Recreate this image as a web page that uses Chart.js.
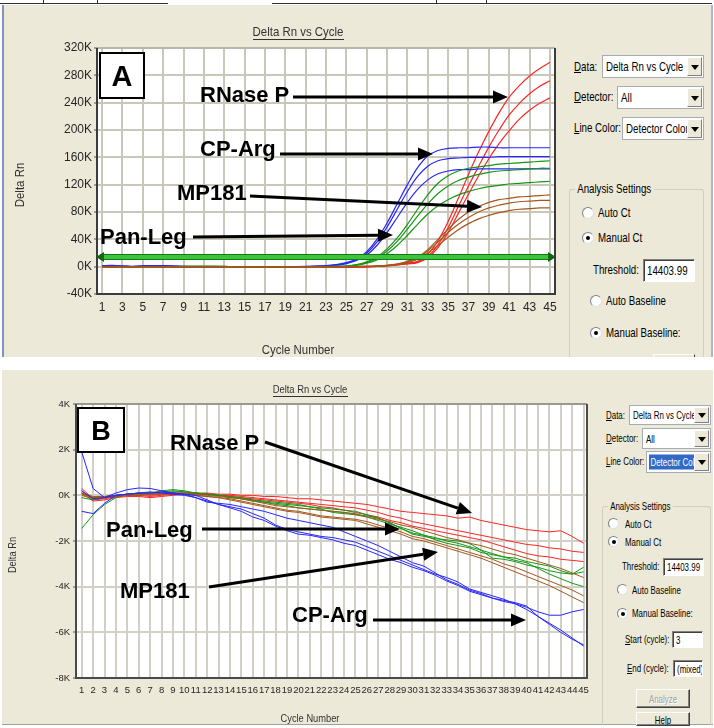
<!DOCTYPE html>
<html><head><meta charset="utf-8">
<script src="https://cdn.jsdelivr.net/npm/chart.js@4.4.1/dist/chart.umd.min.js"></script>
<style>
html,body{margin:0;padding:0;background:#fff;width:714px;height:728px;overflow:hidden;position:relative;font-family:"Liberation Sans",Arial,sans-serif;}
.panel{position:absolute;background:#ECE9D8;overflow:hidden}
canvas{position:absolute;left:0}
.t{position:absolute;white-space:nowrap;line-height:1;color:#000;transform:scaleX(.72);transform-origin:0 50%}
.dd{position:absolute;background:#fff;border:1px solid #A5ACB5;box-sizing:border-box;overflow:hidden;white-space:nowrap}
.dd span{position:absolute;left:3px;top:50%;transform:translateY(-50%) scaleX(.72);transform-origin:0 50%;line-height:1}
.dd span.sel{background:#316AC5;color:#fff;left:2px;padding:2px 8px 2px 2px}
.ddb{position:absolute;right:1px;top:1px;bottom:1px;width:15px;background:#ECE9D8;border:1px solid;border-color:#fff #808080 #808080 #fff;box-sizing:border-box}
.ddb:after{content:"";position:absolute;left:50%;top:50%;margin-left:-4px;margin-top:-2px;border-left:4px solid transparent;border-right:4px solid transparent;border-top:5px solid #000}
.rb{position:absolute;width:12px;height:12px;border-radius:50%;background:#fff;border:1px solid;border-color:#808080 #e0e0e0 #e0e0e0 #808080;box-sizing:border-box}
.rb.on:after{content:"";position:absolute;left:3px;top:3px;width:4px;height:4px;border-radius:50%;background:#000}
.inp{position:absolute;background:#fff;border:1px solid;border-color:#808080 #fff #fff #808080;box-shadow:inset 1px 1px 0 #404040;box-sizing:border-box;white-space:nowrap;overflow:hidden}
.inp span{position:absolute;left:3px;top:50%;transform:translateY(-50%) scaleX(.72);transform-origin:0 50%;line-height:1}
.grp{position:absolute;border:1px solid #D0D0BF;border-bottom:none;border-radius:3px 3px 0 0;box-sizing:border-box}
.grp .gl{position:absolute;left:5px;background:#ECE9D8;padding:0 3px;line-height:1;white-space:nowrap;transform:scaleX(.72);transform-origin:0 50%}
.btn{position:absolute;background:#ECE9D8;border:1px solid;border-color:#fff #404040 #404040 #fff;box-shadow:inset -1px -1px 0 #808080;box-sizing:border-box;text-align:center;overflow:hidden}
.btn span{position:absolute;left:50%;top:50%;transform:translate(-50%,-50%) scaleX(.72);line-height:1;white-space:nowrap}
</style></head><body>

<!-- top tab strip -->
<div style="position:absolute;left:0;top:3px;width:168px;height:1px;background:#333"></div>
<div style="position:absolute;left:272px;top:3px;width:440px;height:1px;background:#333"></div>
<div style="position:absolute;left:43px;top:0;width:1px;height:4px;background:#333"></div>
<div style="position:absolute;left:97px;top:0;width:1px;height:4px;background:#333"></div>
<div style="position:absolute;left:436px;top:0;width:1px;height:4px;background:#333"></div>
<div style="position:absolute;left:486px;top:0;width:1px;height:4px;background:#333"></div>

<div class="panel" id="pA" style="left:2px;top:5px;width:711px;height:352px;border-left:2px solid #7E93BE;border-right:2px solid #A9B7D6;box-sizing:border-box"></div>
<div class="panel" id="pB" style="left:2px;top:370px;width:711px;height:355px;border-bottom:1px solid #A0A0A0;box-sizing:border-box"></div>

<canvas id="cA" width="565" height="357" style="top:0"></canvas>
<canvas id="cB" width="600" height="360" style="top:368px"></canvas>

<!-- Panel A controls -->
<div style="font-size:13.5px">
<div class="t" style="left:574px;top:60px"><u>D</u>ata:</div>
<div class="dd" style="left:602px;top:55px;width:102px;height:23px"><span>Delta Rn vs Cycle</span><div class="ddb"></div></div>
<div class="t" style="left:574px;top:90px"><u>D</u>etector:</div>
<div class="dd" style="left:617px;top:86px;width:87px;height:23px"><span>All</span><div class="ddb"></div></div>
<div class="t" style="left:574px;top:121px"><u>L</u>ine Color:</div>
<div class="dd" style="left:622px;top:117px;width:82px;height:23px"><span>Detector Color</span><div class="ddb"></div></div>
<div class="grp" style="left:569px;top:189px;width:135px;height:168px"><div class="gl" style="top:-8px">Analysis Settings</div></div>
<div class="rb" style="left:582px;top:207px"></div><div class="t" style="left:598px;top:206px">Auto Ct</div>
<div class="rb on" style="left:582px;top:232px"></div><div class="t" style="left:598px;top:231px">Manual Ct</div>
<div class="t" style="left:593px;top:263px">Threshold:</div>
<div class="inp" style="left:643px;top:259px;width:52px;height:23px"><span>14403.99</span></div>
<div class="rb" style="left:590px;top:295px"></div><div class="t" style="left:606px;top:294px">Auto Baseline</div>
<div class="rb on" style="left:590px;top:327px"></div><div class="t" style="left:606px;top:326px">Manual Baseline:</div>
<div class="btn" style="left:653px;top:354px;width:42px;height:3px;border-bottom:none;box-shadow:none"></div>
</div>

<!-- Panel B controls -->
<div style="font-size:11px">
<div class="t" style="left:606px;top:410px"><u>D</u>ata:</div>
<div class="dd" style="left:629px;top:405px;width:82px;height:20px"><span>Delta Rn vs Cycle</span><div class="ddb"></div></div>
<div class="t" style="left:606px;top:433px"><u>D</u>etector:</div>
<div class="dd" style="left:642px;top:428px;width:69px;height:21px"><span>All</span><div class="ddb"></div></div>
<div class="t" style="left:606px;top:456px"><u>L</u>ine Color:</div>
<div class="dd" style="left:646px;top:451px;width:65px;height:22px"><span class="sel">Detector Color</span><div class="ddb"></div></div>
<div class="grp" style="left:602px;top:506px;width:109px;height:219px"><div class="gl" style="top:-6px">Analysis Settings</div></div>
<div class="rb" style="left:608px;top:518px;width:11px;height:11px"></div><div class="t" style="left:625px;top:519px">Auto Ct</div>
<div class="rb on" style="left:608px;top:536px;width:11px;height:11px"></div><div class="t" style="left:625px;top:537px">Manual Ct</div>
<div class="t" style="left:622px;top:561px">Threshold:</div>
<div class="inp" style="left:663px;top:558px;width:41px;height:18px"><span>14403.99</span></div>
<div class="rb" style="left:617px;top:584px;width:11px;height:11px"></div><div class="t" style="left:632px;top:585px">Auto Baseline</div>
<div class="rb on" style="left:617px;top:608px;width:11px;height:11px"></div><div class="t" style="left:632px;top:608px">Manual Baseline:</div>
<div class="t" style="left:625px;top:634px"><u>S</u>tart (cycle):</div>
<div class="inp" style="left:672px;top:631px;width:31px;height:17px"><span>3</span></div>
<div class="t" style="left:627px;top:663px"><u>E</u>nd (cycle):</div>
<div class="inp" style="left:673px;top:660px;width:30px;height:17px"><span>(mixed)</span></div>
<div class="btn" style="left:636px;top:689px;width:54px;height:19px;color:#A0A0A0;text-shadow:1px 1px 0 #fff"><span>Analyze</span></div>
<div class="btn" style="left:636px;top:712px;width:54px;height:14px"><span style="top:60%">Help</span></div>
</div>

<script>
// ---------- categories / ticks ----------
const cycles = [1,2,3,4,5,6,7,8,9,10,11,12,13,14,15,16,17,18,19,20,21,22,23,24,25,26,27,28,29,30,31,32,33,34,35,36,37,38,39,40,41,42,43,44,45];
const xTicksA = [1,3,5,7,9,11,13,15,17,19,21,23,25,27,29,31,33,35,37,39,41,43,45];
const yTicksA = [-40,0,40,80,120,160,200,240,280,320];           // K
const xTicksB = cycles;
const yTicksB = [-8,-6,-4,-2,0,2,4];                               // K
const thresholdA = 14403.99;                                        // Delta Rn

// ---------- Panel A: amplification (Delta Rn, K) ----------
const cpArgA1 = [1.5,1.8,1.2,0.2,1.4,1.6,1.5,1.0,0.3,0.2,0.1,0,0,0,0,0,0,0,0.1,0.1, 0.3,0.8,1.5,3,6,11,22,40,64,92, 120,145,162,170,173,174,174,175,175,174, 174,174,174,174,174];
const cpArgA2 = [0.8,1.0,0.6,0.3,0.9,1.1,1.0,0.7,0.2,0.1,0,0,0,0,0,0,0,0,0,0.1, 0.2,0.6,1.2,2.5,5,10,20,36,58,84, 110,132,147,155,158,159,160,160,160,161, 161,161,161,161,161];
const cpArgA3 = [0.5,0.6,0.4,0.2,0.6,0.8,0.7,0.5,0.2,0.1,0,0,0,0,0,0,0,0,0,0, 0.2,0.5,1.0,2.0,4.5,9,17,31,50,72, 94,113,127,136,140,142,142,143,143,143, 143,143,143,143,143];
const panLegA1 = [0.2,0.1,0,0,0,0,0,0,0.5,0.6,0.6,0.5,0.4,0,0,0,0,0,0,0, 0,0,0.2,0.5,1,3,7,14,26,42, 62,84,105,122,133,140,144,146,148,150, 151,152,153,154,155];
const panLegA2 = [0.1,0,0,0,0,0,0,0,0.4,0.5,0.5,0.4,0.3,0,0,0,0,0,0,0, 0,0,0.1,0.4,0.8,2.5,6,12,23,37, 55,74,92,107,118,126,131,135,138,140, 141,142,143,144,144];
const panLegA3 = [0,0,0,0,0,0,0,0,0.3,0.4,0.4,0.3,0.2,0,0,0,0,0,0,0, 0,0,0.1,0.3,0.6,2,5,10,19,31, 46,62,77,89,98,105,110,114,117,119, 121,122,123,124,125];
const mp181A1 = [-0.3,-0.3,-0.3,-0.3,-0.3,-0.3,-0.3,-0.3,-0.3,-0.3,-0.3,-0.3,-0.3,-0.3,-0.3,-0.3,-0.3,-0.3,-0.3,-0.3, -0.3,-0.3,-0.2,-0.1,0,0.2,0.5,1,2,4, 8,14,25,40,55,69,80,88,94,98, 100,102,103,104,105];
const mp181A2 = [-0.3,-0.3,-0.3,-0.3,-0.3,-0.3,-0.3,-0.3,-0.3,-0.3,-0.3,-0.3,-0.3,-0.3,-0.3,-0.3,-0.3,-0.3,-0.3,-0.3, -0.3,-0.3,-0.2,-0.1,0,0.2,0.4,0.8,1.5,3.5, 7,13,23,36,50,62,72,80,86,90, 93,95,96,97,97];
const mp181A3 = [-0.3,-0.3,-0.3,-0.3,-0.3,-0.3,-0.3,-0.3,-0.3,-0.3,-0.3,-0.3,-0.3,-0.3,-0.3,-0.3,-0.3,-0.3,-0.3,-0.3, -0.3,-0.3,-0.2,-0.1,0,0.2,0.3,0.7,1.5,3, 6,11,20,31,43,54,63,70,75,79, 82,84,85,86,86];
const rnaseA1 = [0.3,-0.2,-0.5,-0.8,-0.8,-0.8,-0.8,-0.8,-0.8,-0.8,-0.8,-0.8,-0.8,-0.8,-0.8,-0.8,-0.8,-0.8,-0.8,-0.8, -0.8,-0.8,-0.8,-0.7,-0.6,-0.4,0,0.8,2,3.5, 5,8,18,38,66,100,135,168,198,225, 248,265,279,290,299];
const rnaseA2 = [0.2,-0.3,-0.6,-0.9,-0.9,-0.9,-0.9,-0.9,-0.9,-0.9,-0.9,-0.9,-0.9,-0.9,-0.9,-0.9,-0.9,-0.9,-0.9,-0.9, -0.9,-0.9,-0.9,-0.8,-0.7,-0.5,-0.2,0.5,1.6,3, 4.5,7,15,32,57,88,118,147,175,200, 222,239,253,264,272];
const rnaseA3 = [0.1,-0.4,-0.7,-1,-1,-1,-1,-1,-1,-1,-1,-1,-1,-1,-1,-1,-1,-1,-1,-1, -1,-1,-1,-0.9,-0.8,-0.6,-0.3,0.3,1.3,2.6, 4,6,13,28,50,78,106,133,158,180, 199,216,229,239,247];

// ---------- Panel B: baseline region (Delta Rn, K) ----------
const cpArgB1 = [1.9,0.3,-0.1,0.1,0.25,0.32,0.3,0.2,0.1,0.05,-0.1,-0.3,-0.35,-0.4,-0.5,-0.6,-0.7,-0.85,-1.0,-1.1,-1.2,-1.3,-1.4,-1.6,-1.8,-2.0,-2.2,-2.45,-2.7,-2.95,-3.1,-3.4,-3.7,-3.9,-4.15,-4.3,-4.5,-4.65,-4.75,-4.9,-5.1,-5.25,-5.25,-5.1,-5.0];
const cpArgB2 = [-0.7,-0.8,-0.35,0.0,0.05,0.1,0.1,0.15,0.1,0.05,0.0,-0.2,-0.4,-0.5,-0.6,-0.8,-1.0,-1.3,-1.5,-1.6,-1.7,-1.8,-1.85,-1.95,-2.05,-2.25,-2.45,-2.65,-2.85,-3.05,-3.25,-3.45,-3.6,-3.8,-4.1,-4.25,-4.4,-4.55,-4.75,-5.0,-5.3,-5.6,-5.9,-6.25,-6.6];
const cpArgB3 = [0.2,-0.15,-0.1,0.0,0.05,0.1,0.15,0.1,0.05,0.0,-0.1,-0.25,-0.4,-0.55,-0.7,-0.95,-1.1,-1.35,-1.55,-1.7,-1.75,-1.85,-1.95,-2.1,-2.2,-2.4,-2.6,-2.8,-2.95,-3.15,-3.3,-3.5,-3.75,-3.95,-4.2,-4.35,-4.5,-4.6,-4.7,-4.85,-5.3,-5.65,-6.0,-6.3,-6.55];
const rnaseB1 = [0.3,-0.15,-0.1,-0.05,0.0,0.05,0.0,0.05,0.1,0.1,0.1,0.1,0.05,0.05,0.0,0.0,-0.05,-0.05,-0.1,-0.15,-0.15,-0.2,-0.25,-0.3,-0.35,-0.4,-0.5,-0.6,-0.7,-0.75,-0.8,-0.85,-0.9,-1.0,-0.95,-1.1,-1.2,-1.3,-1.4,-1.5,-1.55,-1.6,-1.55,-1.8,-2.1];
const rnaseB2 = [0.2,-0.2,-0.15,-0.05,0.0,0.0,-0.05,0.0,0.05,0.05,0.1,0.05,0.0,0.0,-0.05,-0.1,-0.15,-0.2,-0.25,-0.3,-0.35,-0.4,-0.45,-0.5,-0.55,-0.65,-0.75,-0.9,-1.0,-1.15,-1.25,-1.35,-1.45,-1.55,-1.65,-1.75,-1.85,-1.95,-2.05,-2.15,-2.2,-2.3,-2.35,-2.45,-2.5];
const rnaseB3 = [0.1,-0.25,-0.2,-0.1,-0.05,-0.05,-0.1,-0.05,0.0,0.05,0.05,0.05,0.0,-0.05,-0.1,-0.15,-0.2,-0.25,-0.3,-0.35,-0.4,-0.5,-0.55,-0.65,-0.75,-0.85,-0.95,-1.1,-1.2,-1.35,-1.45,-1.55,-1.65,-1.75,-1.85,-1.95,-2.1,-2.25,-2.4,-2.55,-2.65,-2.7,-2.8,-2.85,-2.9];
const panLegB1 = [-0.1,-0.2,-0.1,0.0,0.05,0.05,0.05,0.1,0.15,0.15,0.1,0.05,0.0,-0.05,-0.1,-0.2,-0.25,-0.3,-0.35,-0.4,-0.5,-0.6,-0.75,-0.8,-0.85,-0.9,-1.0,-1.2,-1.45,-1.65,-1.75,-1.85,-2.0,-2.1,-2.25,-2.4,-2.55,-2.7,-2.85,-2.95,-3.2,-3.45,-3.65,-3.85,-4.0];
const panLegB2 = [-1.45,-0.85,-0.4,-0.1,0.05,0.1,0.1,0.2,0.25,0.2,0.1,0.05,0.0,-0.05,-0.15,-0.2,-0.3,-0.35,-0.4,-0.45,-0.5,-0.55,-0.6,-0.65,-0.7,-0.85,-1.0,-1.2,-1.45,-1.7,-1.8,-1.9,-1.95,-2.0,-2.1,-2.4,-2.75,-2.8,-2.9,-3.05,-3.15,-3.3,-3.4,-3.45,-3.15];
const panLegB3 = [0.1,-0.1,-0.05,0.0,0.05,0.1,0.1,0.15,0.2,0.15,0.1,0.05,0.0,-0.1,-0.15,-0.25,-0.3,-0.4,-0.45,-0.55,-0.6,-0.65,-0.7,-0.75,-0.8,-0.95,-1.1,-1.25,-1.4,-1.55,-1.75,-1.95,-2.1,-2.2,-2.3,-2.5,-2.6,-2.7,-2.75,-2.9,-3.0,-3.1,-3.3,-3.45,-3.35];
const mp181B1 = [0.05,-0.1,-0.1,-0.05,0.0,0.05,0.05,0.1,0.1,0.1,0.05,0.0,-0.05,-0.1,-0.15,-0.25,-0.35,-0.45,-0.5,-0.55,-0.6,-0.65,-0.7,-0.75,-0.85,-0.95,-1.05,-1.15,-1.3,-1.4,-1.55,-1.7,-1.85,-1.95,-2.1,-2.2,-2.35,-2.5,-2.6,-2.75,-2.9,-3.05,-3.2,-3.4,-3.6];
const mp181B2 = [0.0,-0.15,-0.1,-0.05,0.0,0.0,0.05,0.05,0.05,0.05,0.0,-0.05,-0.1,-0.2,-0.3,-0.4,-0.5,-0.6,-0.7,-0.75,-0.85,-0.95,-1.0,-1.05,-1.1,-1.25,-1.4,-1.55,-1.7,-1.9,-2.0,-2.15,-2.3,-2.45,-2.6,-2.75,-2.95,-3.15,-3.35,-3.55,-3.75,-3.95,-4.2,-4.45,-4.7];
const mp181B3 = [0.1,-0.05,-0.05,0.0,0.05,0.05,0.05,0.1,0.1,0.05,0.0,-0.05,-0.1,-0.15,-0.25,-0.35,-0.45,-0.55,-0.65,-0.7,-0.8,-0.9,-0.95,-1.0,-1.05,-1.15,-1.3,-1.45,-1.6,-1.8,-1.9,-2.05,-2.2,-2.35,-2.5,-2.65,-2.8,-3.0,-3.15,-3.35,-3.55,-3.75,-3.95,-4.15,-4.4];

// ---------- styling ----------
const COL = {blue:'#2626FF', green:'#169616', red:'#FF2424', brown:'#A5561C'};
const SANS = '"Liberation Sans",Arial,Helvetica,sans-serif';

function pts(vals){ return vals.map((v,i)=>({x:cycles[i], y:v})); }
function ds(vals,color,w,tension){ return {data:pts(vals), borderColor:color, borderWidth:w, pointRadius:0, tension:tension, fill:false}; }

function arrow(ctx,x1,y1,x2,y2){
  const ang=Math.atan2(y2-y1,x2-x1), L=15, H=6.5;
  const bx=x2-L*Math.cos(ang), by=y2-L*Math.sin(ang);
  ctx.beginPath(); ctx.moveTo(x1,y1); ctx.lineTo(bx,by); ctx.lineWidth=3; ctx.strokeStyle='#000'; ctx.stroke();
  ctx.beginPath(); ctx.moveTo(x2,y2);
  ctx.lineTo(bx+H*Math.sin(ang), by-H*Math.cos(ang));
  ctx.lineTo(bx-H*Math.sin(ang), by+H*Math.cos(ang));
  ctx.closePath(); ctx.fillStyle='#000'; ctx.fill();
}
function narrowText(c,text,x,y,sx){ c.save(); c.translate(x,y); c.scale(sx,1); c.fillText(text,0,0); c.restore(); }

function decorPlugin(cfg){
  return {
    id:'decor',
    beforeDraw(chart){
      const a=chart.chartArea, c=chart.ctx;
      c.save(); c.fillStyle='#fff'; c.fillRect(a.left,a.top,a.right-a.left,a.bottom-a.top); c.restore();
    },
    afterDatasetsDraw(chart){
      if(cfg.threshold===undefined) return;
      const a=chart.chartArea, c=chart.ctx, y=Math.round(chart.scales.y.getPixelForValue(cfg.threshold/1000));
      c.save();
      c.fillStyle='#127A12'; c.fillRect(a.left+3,y-3,a.right-a.left-6,6);
      c.fillStyle='#3DC43D'; c.fillRect(a.left+3,y-2,a.right-a.left-6,4);
      c.fillStyle='#0E6A0E';
      c.beginPath(); c.moveTo(a.left-1,y); c.lineTo(a.left+7,y-5); c.lineTo(a.left+7,y+5); c.closePath(); c.fill();
      c.beginPath(); c.moveTo(a.right+1,y); c.lineTo(a.right-7,y-5); c.lineTo(a.right-7,y+5); c.closePath(); c.fill();
      c.restore();
    },
    afterDraw(chart){
      const a=chart.chartArea, c=chart.ctx;
      c.save();
      c.lineWidth=2; c.strokeStyle=cfg.topBorder;
      c.beginPath(); c.moveTo(a.left,a.top); c.lineTo(a.right,a.top); c.stroke();
      c.strokeStyle=cfg.border;
      c.beginPath(); c.moveTo(a.left,a.top); c.lineTo(a.left,a.bottom); c.lineTo(a.right,a.bottom); c.lineTo(a.right,a.top); c.stroke();
      // chart title (underlined)
      c.fillStyle='#333'; c.font=cfg.titleFont; c.textAlign='center'; c.textBaseline='middle';
      narrowText(c,cfg.title,cfg.titleX,cfg.titleY,cfg.titleSx);
      const tw=c.measureText(cfg.title).width*cfg.titleSx;
      c.fillRect(Math.round(cfg.titleX-tw/2), cfg.titleY+cfg.ul, Math.round(tw), 1);
      // axis titles
      c.font=cfg.axisFont;
      narrowText(c,cfg.xTitle,cfg.xTitleX,cfg.xTitleY,cfg.axisSx);
      c.save(); c.translate(cfg.yTitleX, cfg.yTitleY); c.rotate(-Math.PI/2); c.scale(cfg.axisSx,1); c.fillText(cfg.yTitle,0,0); c.restore();
      // panel letter box
      const b=cfg.box;
      c.fillStyle='#fff'; c.fillRect(b.x,b.y,b.w,b.h);
      c.lineWidth=2; c.strokeStyle='#000'; c.strokeRect(b.x,b.y,b.w,b.h);
      c.fillStyle='#000'; c.font='bold '+b.size+'px '+SANS; c.textAlign='center'; c.textBaseline='alphabetic';
      c.fillText(b.letter, b.x+b.w/2, b.base);
      // annotations
      c.font='bold 22px '+SANS; c.textAlign='left';
      cfg.labels.forEach(l=>c.fillText(l.text,l.x,l.y));
      cfg.arrows.forEach(r=>arrow(c,r[0],r[1],r[2],r[3]));
      c.restore();
    }
  };
}

function makeChart(id, datasets, o, plug){
  return new Chart(document.getElementById(id), {
    type:'line',
    data:{datasets},
    options:{
      responsive:false, animation:false, devicePixelRatio:1,
      layout:{padding:o.pad},
      plugins:{legend:{display:false}, tooltip:{enabled:false}},
      scales:{
        x:{type:'linear', min:o.xmin, max:o.xmax,
           afterBuildTicks:s=>{s.ticks=o.xticks.map(v=>({value:v}));},
           afterFit:s=>{s.height=o.xh;},
           grid:{color:o.grid, lineWidth:2, drawTicks:false},
           border:{display:false},
           ticks:{autoSkip:false, maxRotation:0, padding:o.xpad, color:'#262626', font:{family:SANS,size:o.fs}, callback:v=>String(v)}},
        y:{type:'linear', min:o.ymin, max:o.ymax,
           afterBuildTicks:s=>{s.ticks=o.yticks.map(v=>({value:v}));},
           afterFit:s=>{s.width=o.yw;},
           grid:{color:o.grid, lineWidth:2, drawTicks:true, tickLength:3, tickColor:'#555', tickWidth:1},
           border:{display:false},
           ticks:{autoSkip:false, padding:o.ypad, color:'#262626', font:{family:SANS,size:o.fs}, callback:v=>v+'K'}}
      }
    },
    plugins:[plug]
  });
}

// Panel A
makeChart('cA', [
  ds(mp181A1,COL.brown,1.2,0.35), ds(mp181A2,COL.brown,1.2,0.35), ds(mp181A3,COL.brown,1.2,0.35),
  ds(panLegA1,COL.green,1.2,0.35), ds(panLegA2,COL.green,1.2,0.35), ds(panLegA3,COL.green,1.2,0.35),
  ds(cpArgA1,COL.blue,1.2,0.35), ds(cpArgA2,COL.blue,1.2,0.35), ds(cpArgA3,COL.blue,1.2,0.35),
  ds(rnaseA1,COL.red,1.2,0.35), ds(rnaseA2,COL.red,1.2,0.35), ds(rnaseA3,COL.red,1.2,0.35)
], {pad:{left:0,top:48,right:10,bottom:27}, xmin:0.5, xmax:45.5, ymin:-40, ymax:320,
    xticks:xTicksA, yticks:yTicksA, xh:36, yw:97, xpad:6, ypad:2, fs:12, grid:'#C9C6BA'},
  decorPlugin({threshold:thresholdA, border:'#3C3C3C', topBorder:'#B8B6AC',
    title:'Delta Rn vs Cycle', titleX:298, titleY:32, ul:7, titleFont:'13px '+SANS, titleSx:0.88,
    axisFont:'13px '+SANS, axisSx:0.88, xTitle:'Cycle Number', xTitleX:298, xTitleY:350, yTitle:'Delta Rn', yTitleX:20, yTitleY:185,
    box:{x:100,y:53,w:44,h:45,letter:'A',size:29,base:86},
    labels:[{text:'RNase P',x:200,y:102},{text:'CP-Arg',x:200,y:156},{text:'MP181',x:177,y:200},{text:'Pan-Leg',x:100,y:244}],
    arrows:[[293,97,508,97],[280,154,433,154],[250,196,482,207],[193,237,393,235]]
  }));

// Panel B
makeChart('cB', [
  ds(cpArgB1,COL.blue,1,0), ds(cpArgB2,COL.blue,1,0), ds(cpArgB3,COL.blue,1,0),
  ds(mp181B1,COL.brown,1,0), ds(mp181B2,COL.brown,1,0), ds(mp181B3,COL.brown,1,0),
  ds(panLegB1,COL.green,1,0), ds(panLegB2,COL.green,1,0), ds(panLegB3,COL.green,1,0),
  ds(rnaseB1,COL.red,1,0), ds(rnaseB2,COL.red,1,0), ds(rnaseB3,COL.red,1,0)
], {pad:{left:0,top:36,right:13,bottom:25}, xmin:0.5, xmax:45.3, ymin:-8, ymax:4,
    xticks:xTicksB, yticks:yTicksB, xh:25, yw:76, xpad:7, ypad:3, fs:9.5, grid:'#D2D0C6'},
  decorPlugin({border:'#4A4A4A', topBorder:'#9A9890',
    title:'Delta Rn vs Cycle', titleX:310, titleY:22, ul:6, titleFont:'10px '+SANS, titleSx:0.94,
    axisFont:'10px '+SANS, axisSx:0.93, xTitle:'Cycle Number', xTitleX:310, xTitleY:351, yTitle:'Delta Rn', yTitleX:13, yTitleY:187,
    box:{x:78,y:40,w:46,h:44,letter:'B',size:27,base:72},
    labels:[{text:'RNase P',x:170,y:82},{text:'Pan-Leg',x:106,y:169},{text:'MP181',x:120,y:230},{text:'CP-Arg',x:292,y:254}],
    arrows:[[265,74,472,145],[202,161,400,161],[209,219,438,184],[373,252,526,252]]
  }));
</script>
</body></html>
